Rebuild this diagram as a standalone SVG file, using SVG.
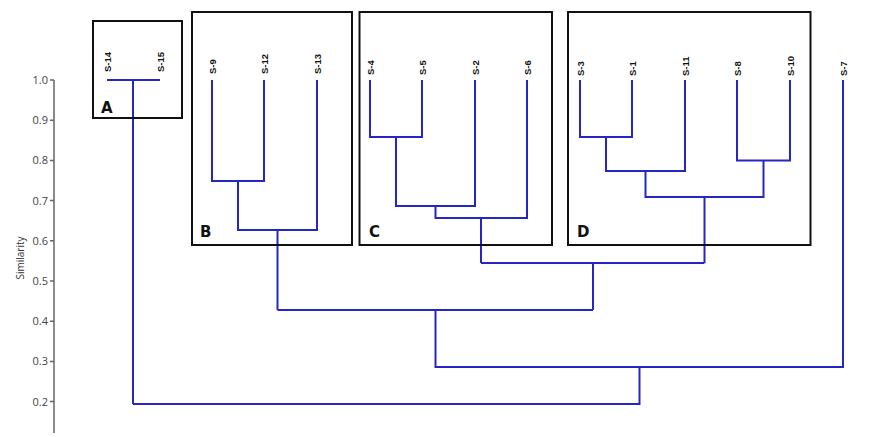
<svg xmlns="http://www.w3.org/2000/svg" width="880" height="437" viewBox="0 0 880 437">
<style>
.box{fill:none;stroke:#111;stroke-width:2}
.bl{font-family:"DejaVu Sans",sans-serif;font-weight:bold;font-size:15px;fill:#111}
.leaf{font-family:"Liberation Sans",Arial,sans-serif;font-weight:bold;font-size:9.5px;fill:#111;text-anchor:start}
.tick{font-family:"Open Sans",sans-serif;font-size:11px;fill:#444;text-anchor:end}
.ax{stroke:#666;stroke-width:1.5;fill:none}
.dl{fill:none;stroke:#2626c4;stroke-width:2}
</style>
<rect width="880" height="437" fill="#fff"/>
<g id="axis">
<path class="ax" d="M54,80V433M50,80H54M50,120.2H54M50,160.4H54M50,200.6H54M50,240.8H54M50,281H54M50,321.2H54M50,361.4H54M50,401.6H54"/>
<text class="tick" x="48" y="84">1.0</text>
<text class="tick" x="48" y="124.2">0.9</text>
<text class="tick" x="48" y="164.4">0.8</text>
<text class="tick" x="48" y="204.6">0.7</text>
<text class="tick" x="48" y="244.8">0.6</text>
<text class="tick" x="48" y="285">0.5</text>
<text class="tick" x="48" y="325.2">0.4</text>
<text class="tick" x="48" y="365.4">0.3</text>
<text class="tick" x="48" y="405.6">0.2</text>
<text font-family="'Open Sans',sans-serif" font-size="10" fill="#333" text-anchor="middle" transform="translate(23.5,258) rotate(-90)">Similarity</text>
</g>
<g id="connectors">
<path class="dl" d="M107,80H160M133,80V404"/>
<path class="dl" d="M212,80V181H264V80M238,181V230H317V80M277.5,230V310"/>
<path class="dl" d="M370,80V137H422V80M396,137V206H475V80M435.5,206V218H527V80M481,218V263"/>
<path class="dl" d="M580,80V137H632V80M606,137V171H685V80M737,80V160.5H790V80M763.5,160.5V197H645.5V171M704.5,197V263"/>
<path class="dl" d="M481,263H704.5M593,263V310M277.5,310H593M435.5,310V367H843V80M639.5,367V404H133"/>
</g>
<g id="A">
<rect class="box" x="93" y="21" width="89" height="97"/>
<text class="bl" x="101" y="113">A</text>
</g>
<g id="B">
<rect class="box" x="192" y="12" width="160" height="233"/>
<text class="bl" x="200" y="237">B</text>
</g>
<g id="C">
<rect class="box" x="359.5" y="12" width="192.5" height="233"/>
<text class="bl" x="369" y="237">C</text>
</g>
<g id="D">
<rect class="box" x="568" y="12" width="242.5" height="233"/>
<text class="bl" x="577" y="237">D</text>
</g>
<g id="leaves">
<text class="leaf" transform="translate(111.3,72) rotate(-90)">S-14</text>
<text class="leaf" transform="translate(164.3,72) rotate(-90)">S-15</text>
<text class="leaf" transform="translate(216.3,74) rotate(-90)">S-9</text>
<text class="leaf" transform="translate(268.3,74) rotate(-90)">S-12</text>
<text class="leaf" transform="translate(321.3,74) rotate(-90)">S-13</text>
<text class="leaf" transform="translate(374.3,75) rotate(-90)">S-4</text>
<text class="leaf" transform="translate(426.3,75) rotate(-90)">S-5</text>
<text class="leaf" transform="translate(479.3,75) rotate(-90)">S-2</text>
<text class="leaf" transform="translate(531.3,75) rotate(-90)">S-6</text>
<text class="leaf" transform="translate(584.3,76) rotate(-90)">S-3</text>
<text class="leaf" transform="translate(636.3,76) rotate(-90)">S-1</text>
<text class="leaf" transform="translate(689.3,76) rotate(-90)">S-11</text>
<text class="leaf" transform="translate(741.3,76) rotate(-90)">S-8</text>
<text class="leaf" transform="translate(794.3,76) rotate(-90)">S-10</text>
<text class="leaf" transform="translate(847.3,76) rotate(-90)">S-7</text>
</g>
</svg>
